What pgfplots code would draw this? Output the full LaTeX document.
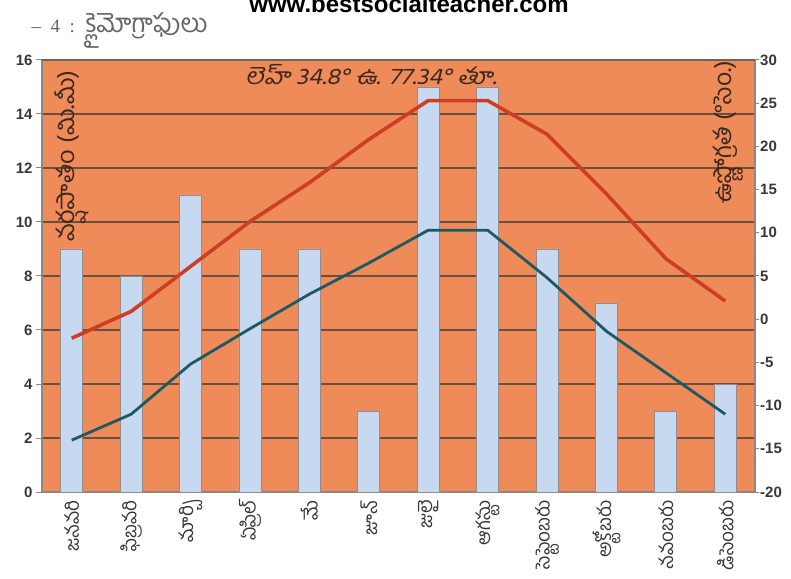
\documentclass[border=0pt]{standalone}
\usepackage{fontspec}
\setmainfont{Liberation Sans}
\newfontfamily\telugu[Script=Telugu]{Hind Guntur}
\newfontfamily\teluguit[Script=Telugu,FakeSlant=0.2]{Hind Guntur}
\newfontfamily\serifont{Liberation Serif}
\usepackage{pgfplots}
\pgfplotsset{compat=1.18}
\definecolor{bg}{RGB}{239,139,89}
\definecolor{barfill}{RGB}{198,217,240}
\definecolor{barline}{RGB}{150,140,140}
\definecolor{redline}{RGB}{205,62,36}
\definecolor{tealline}{RGB}{30,88,98}
\definecolor{gridc}{RGB}{105,80,65}
\definecolor{axisc}{RGB}{140,135,130}
\definecolor{tickc}{RGB}{55,55,55}
\definecolor{labc}{RGB}{60,40,30}

\pgfplotstableread{
x rain
0 9
1 8
2 11
3 9
4 9
5 3
6 15
7 15
8 9
9 7
10 3
11 4
}\raintable

\pgfplotstableread{
x tmax tmin
0 -2.2 -14.0
1 0.9 -11.0
2 6.1 -5.2
3 11.3 -1.1
4 15.8 2.9
5 20.8 6.5
6 25.3 10.3
7 25.3 10.3
8 21.4 4.8
9 14.5 -1.4
10 7.0 -6.2
11 2.1 -11.0
}\temptable

\begin{document}
\begin{tikzpicture}
\path[use as bounding box] (0pt,0pt) rectangle (791pt,578pt);
\begin{axis}[
  at={(42pt,86pt)}, anchor=south west,
  scale only axis, width=713pt, height=432pt,
  xmin=-0.5, xmax=11.5, ymin=0, ymax=16,
  axis background/.style={fill=bg},
  axis line style={axisc, line width=1.2pt},
  axis y line*=left, axis x line*=bottom,
  ytick={0,2,...,16},
  ymajorgrids, grid style={gridc, line width=1.3pt},
  xtick={0,...,11},
  xticklabels={జనవరి,ఫిబ్రవరి,మార్చి,ఏప్రిల్,మే,జూన్,జులై,ఆగస్టు,సెప్టెంబరు,అక్టోబరు,నవంబరు,డిసెంబరు},
  x tick style={draw=none},
  minor xtick={-0.5,0.5,...,11.5},
  minor x tick style={axisc, line width=1pt},
  minor tick length=5pt,
  major tick length=6pt,
  y tick style={axisc, line width=1pt},
  tick align=outside,
  xticklabel style={rotate=90, anchor=east, font=\telugu\fontsize{19}{19}\selectfont, text=tickc, inner sep=2pt},
  yticklabel style={font=\fontsize{15}{15}\bfseries\selectfont, text=tickc},
  /pgf/number format/assume math mode=true,
  clip=false,
]
\addplot[ybar, bar width=22pt, fill=barfill, draw=barline, line width=0.8pt] table[x=x, y=rain] {\raintable};
\end{axis}
\begin{axis}[
  at={(42pt,86pt)}, anchor=south west,
  scale only axis, width=713pt, height=432pt,
  xmin=-0.5, xmax=11.5, ymin=-20, ymax=30,
  axis y line*=right, axis x line=none,
  axis line style={axisc, line width=1.2pt},
  ytick={-20,-15,...,30},
  y tick style={axisc, line width=1pt},
  major tick length=4pt,
  tick align=outside,
  yticklabel style={font=\fontsize{15}{15}\bfseries\selectfont, text=tickc, inner sep=1pt},
  /pgf/number format/assume math mode=true,
]
\addplot[redline, line width=3.6pt, line join=round] table[x=x, y=tmax] {\temptable};
\addplot[tealline, line width=2.8pt, line join=round] table[x=x, y=tmin] {\temptable};
\end{axis}
% top border of plot area
\draw[gridc!70!axisc, line width=2pt] (42pt,518pt) -- (755pt,518pt);
% annotations
\node[font=\teluguit\fontsize{23}{23}\selectfont, text=labc, xscale=1.12] at (371pt,503pt) {లెహ్ 34.8° ఉ. 77.34° తూ.};
\node[rotate=90, font=\telugu\fontsize{24}{24}\selectfont, text=labc, xscale=1.06] at (72pt,422pt) {వర్షపాతం (మి.మీ)};
\node[rotate=90, font=\telugu\fontsize{24}{24}\selectfont, text=labc, xscale=1.03] at (728pt,446pt) {ఉష్ణోగ్రత (°సెం.)};
% page header
\node[font=\fontsize{24}{24}\bfseries\selectfont, anchor=base] at (409pt,565pt) {www.bestsocialteacher.com};
\node[anchor=base west, text=black!60] at (28pt,545pt) {\serifont\fontsize{19}{19}\selectfont – \ 4 \ : \ \telugu\fontsize{26}{26}\selectfont క్లైమోగ్రాఫులు};
\end{tikzpicture}
\end{document}
